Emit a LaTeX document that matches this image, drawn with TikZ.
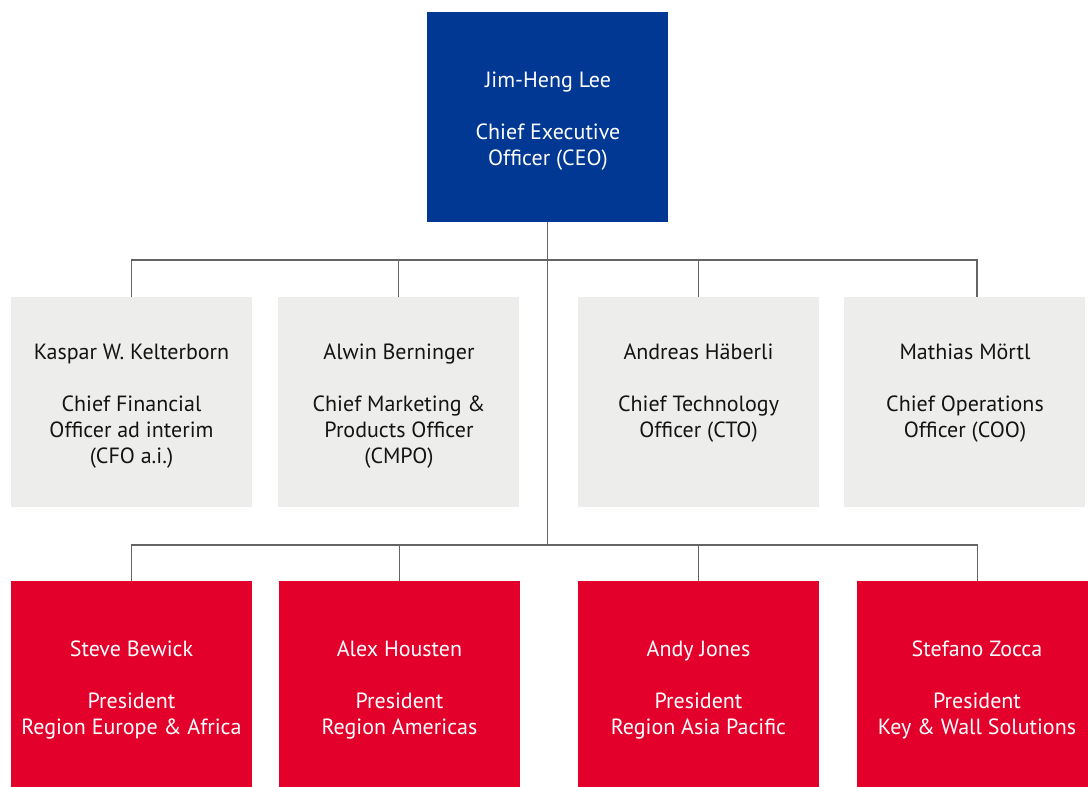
\documentclass[tikz,border=0pt]{standalone}
\usepackage{fontspec}
\setmainfont{PT Sans}
\definecolor{ceoblue}{RGB}{0,56,147}
\definecolor{execgray}{RGB}{237,237,236}
\definecolor{regionred}{RGB}{227,0,43}
\definecolor{linkgray}{RGB}{100,100,100}
\definecolor{inkdark}{RGB}{20,20,20}
\begin{document}
\begin{tikzpicture}[x=1pt,y=-1pt,
  orgbox/.style={rectangle,inner sep=0pt,outer sep=0pt,draw=none,
    minimum width=241pt,minimum height=210pt,anchor=north west},
  ceobox/.style={orgbox,fill=ceoblue},
  execbox/.style={orgbox,fill=execgray},
  regionbox/.style={orgbox,fill=regionred},
  boxtext/.style={anchor=north,align=center,inner sep=0pt,
    font=\fontsize{22}{26}\selectfont},
  lighttext/.style={boxtext,text=white},
  darktext/.style={boxtext,text=inkdark},
  link/.style={draw=linkgray,line width=1.6pt}]
\useasboundingbox (0,0) rectangle (1088,787);
\begin{scope}
\clip (0,0) rectangle (1088,787);

% boxes
\node[ceobox] (ceo) at (427,12) {};
\node[execbox] (cfo) at (11,297) {};
\node[execbox] (cmpo) at (278,297) {};
\node[execbox] (cto) at (578,297) {};
\node[execbox] (coo) at (844,297) {};
\node[regionbox] (eua) at (11,581) {};
\node[regionbox] (ame) at (279,581) {};
\node[regionbox] (apa) at (578,581) {};
\node[regionbox] (kws) at (857,581) {};

% texts (the invisible rule fixes the first baseline 18pt below the node top)
\node[lighttext] (ceot) at (548,69) {\rule{0pt}{18pt}Jim-Heng Lee\\[26pt]Chief Executive\\Officer (CEO)};
\node[darktext] (cfot) at (131.5,341) {\rule{0pt}{18pt}Kaspar W. Kelterborn\\[26pt]Chief Financial\\Officer ad interim\\(CFO a.i.)};
\node[darktext] (cmpot) at (399,341) {\rule{0pt}{18pt}Alwin Berninger\\[26pt]Chief Marketing \&\\Products Officer\\(CMPO)};
\node[darktext] (ctot) at (698.5,341) {\rule{0pt}{18pt}Andreas Häberli\\[26pt]Chief Technology\\Officer (CTO)};
\node[darktext] (coot) at (965,341) {\rule{0pt}{18pt}Mathias Mörtl\\[26pt]Chief Operations\\Officer (COO)};
\node[lighttext] (euat) at (131.5,638) {\rule{0pt}{18pt}Steve Bewick\\[26pt]President\\Region Europe \& Africa};
\node[lighttext] (amet) at (399.5,638) {\rule{0pt}{18pt}Alex Housten\\[26pt]President\\Region Americas};
\node[lighttext] (apat) at (698.5,638) {\rule{0pt}{18pt}Andy Jones\\[26pt]President\\Region Asia Pacific};
\node[lighttext] (kwst) at (977,638) {\rule{0pt}{18pt}Stefano Zocca\\[26pt]President\\Key \& Wall Solutions};

% connector levels
\coordinate (busA) at (0,260);
\coordinate (busB) at (0,545);
\coordinate (cooin) at (977,297);

% CEO trunk
\draw[link] (ceo.south) -- (ceo.south |- busB);
% executive level
\draw[link] (cfo.north) -- (cfo.north |- busA) -- (cooin |- busA) -- (cooin);
\draw[link] (cmpo.north) -- (cmpo.north |- busA);
\draw[link] (cto.north) -- (cto.north |- busA);
% regional level
\draw[link] (eua.north) -- (eua.north |- busB) -- (kws.north |- busB) -- (kws.north);
\draw[link] (ame.north) -- (ame.north |- busB);
\draw[link] (apa.north) -- (apa.north |- busB);
\end{scope}
\end{tikzpicture}
\end{document}
